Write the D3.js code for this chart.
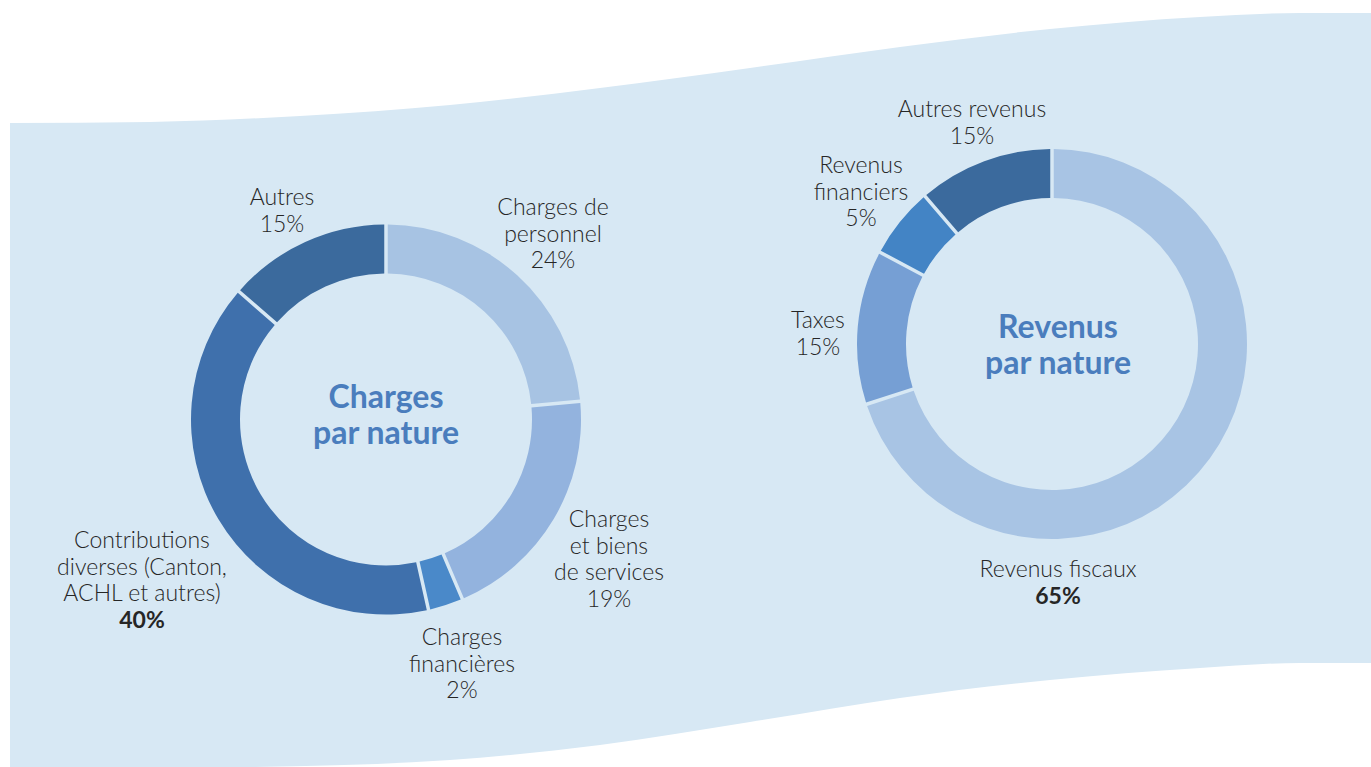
<!DOCTYPE html>
<html lang="fr">
<head>
<meta charset="utf-8">
<script src="https://cdn.jsdelivr.net/npm/d3@7"></script>
<style>
  html, body { margin: 0; padding: 0; background: #fff; }
  #chart { width: 1371px; height: 767px; }
  text { font-family: Lato, "Open Sans", sans-serif; }
</style>
</head>
<body>
<div id="chart"></div>
<script>
// Charges par nature
const chargesCategories = ['Charges de personnel', 'Charges et biens de services', 'Charges financières',
  'Contributions diverses (Canton, ACHL et autres)', 'Autres'];
const chargesShares = [23.5, 20.1, 2.9, 39.9, 13.6];   // arc sizes as drawn
const chargesPercent = ['24%', '19%', '2%', '40%', '15%'];

// Revenus par nature
const revenusCategories = ['Revenus fiscaux', 'Taxes', 'Revenus financiers', 'Autres revenus'];
const revenusShares = [70.0, 12.8, 5.9, 11.3];
const revenusPercent = ['65%', '15%', '5%', '15%'];

const W = 1371, H = 767;
const svg = d3.select('#chart').append('svg')
  .attr('width', W).attr('height', H)
  .attr('viewBox', `0 0 ${W} ${H}`);

// wavy background band
const topEdge = [[10, 123], [150, 122], [300, 116], [450, 105], [600, 88], [750, 68], [900, 47],
  [1050, 29], [1200, 17], [1300, 13], [1371, 13]];
const bottomEdge = [[250, 767], [450, 760], [600, 745], [750, 722], [900, 698], [1050, 680],
  [1200, 668], [1300, 663], [1371, 663]];
const edge = d3.line().curve(d3.curveMonotoneX);
const topRev = topEdge.slice().reverse();
svg.append('path')
  .attr('d', 'M10,767' + edge(bottomEdge).replace(/^M/, 'L') +
    edge(topRev).replace(/^M/, 'L') + 'Z')
  .attr('fill', '#d7e8f4');

const ringInner = 146, ringOuter = 195;
const pie = d3.pie().sort(null).value(d => d);
const arc = d3.arc().innerRadius(ringInner).outerRadius(ringOuter)
  .padAngle(3.5 / ringOuter).padRadius(ringOuter);

function donut(cx, cy, shares, colors, title) {
  const g = svg.append('g').attr('transform', `translate(${cx},${cy})`);
  g.selectAll('path').data(pie(shares)).join('path')
    .attr('d', arc)
    .attr('fill', (d, i) => colors[i]);
  g.selectAll('.title').data(title.lines).join('text')
    .attr('class', 'title')
    .attr('x', title.dx).attr('y', (d, i) => title.dy + i * 36)
    .attr('text-anchor', 'middle')
    .attr('fill', '#4a7dbd').attr('font-size', '32px').attr('font-weight', 700)
    .text(d => d);
}

function labels(items) {
  items.forEach(it => {
    const t = svg.append('text').attr('text-anchor', 'middle')
      .attr('fill', '#262626').attr('font-size', '23px').attr('font-weight', 300);
    it.lines.forEach((ln, i) => {
      t.append('tspan').attr('x', it.x).attr('y', it.y + i * 26.5).text(ln);
    });
    t.append('tspan').attr('x', it.x).attr('y', it.y + it.lines.length * 26.5)
      .attr('font-weight', it.bold ? 700 : 300).text(it.pct);
  });
}

donut(386, 419.5, chargesShares, ['#a7c3e3', '#93b3de', '#4a89c9', '#3f70ac', '#3b6a9d'],
  { lines: ['Charges', 'par nature'], dx: 0, dy: -12 });
donut(1052, 344, revenusShares, ['#a8c4e4', '#769fd4', '#4384c5', '#3b6a9d'],
  { lines: ['Revenus', 'par nature'], dx: 6, dy: -6 });

labels([
  { lines: ['Charges de', 'personnel'], pct: chargesPercent[0], x: 553, y: 215 },
  { lines: ['Charges', 'et biens', 'de services'], pct: chargesPercent[1], x: 609, y: 527 },
  { lines: ['Charges', 'financières'], pct: chargesPercent[2], x: 462, y: 645 },
  { lines: ['Contributions', 'diverses (Canton,', 'ACHL et autres)'], pct: chargesPercent[3], x: 142, y: 548, bold: true },
  { lines: ['Autres'], pct: chargesPercent[4], x: 282, y: 205 },
  { lines: ['Revenus fiscaux'], pct: revenusPercent[0], x: 1058, y: 577, bold: true },
  { lines: ['Taxes'], pct: revenusPercent[1], x: 818, y: 328 },
  { lines: ['Revenus', 'financiers'], pct: revenusPercent[2], x: 861, y: 173 },
  { lines: ['Autres revenus'], pct: revenusPercent[3], x: 972, y: 117 }
]);
</script>
</body>
</html>
